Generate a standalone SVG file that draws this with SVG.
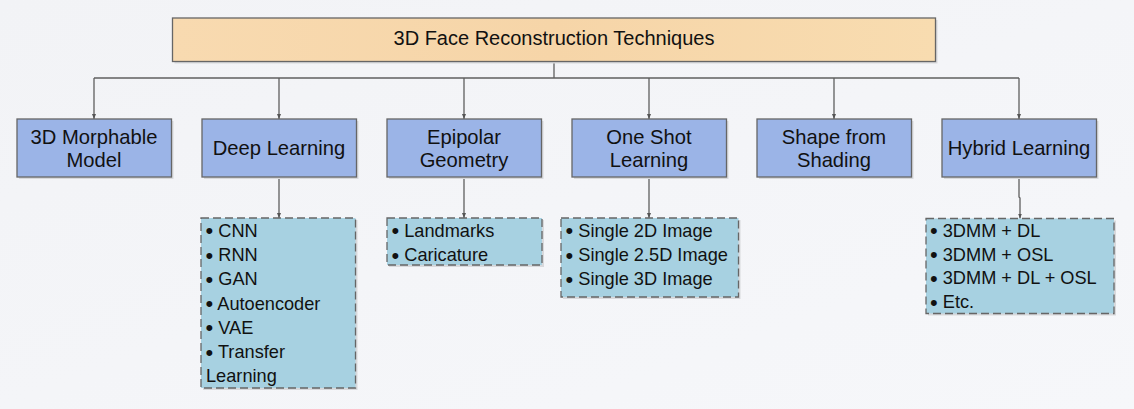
<svg xmlns="http://www.w3.org/2000/svg" width="1134" height="409" viewBox="0 0 1134 409">
<defs>
<linearGradient id="bg" x1="0" y1="0" x2="1" y2="1">
<stop offset="0" stop-color="#f2f3f6"/>
<stop offset="1" stop-color="#f6f7fa"/>
</linearGradient>
<linearGradient id="topfill" x1="0" y1="0" x2="1" y2="0">
<stop offset="0" stop-color="#f8dab0"/>
<stop offset="0.5" stop-color="#f6d5a8"/>
<stop offset="1" stop-color="#f8dcb0"/>
</linearGradient>
<marker id="arr" markerWidth="6" markerHeight="4" refX="5" refY="2" orient="auto" markerUnits="userSpaceOnUse">
<path d="M0,0 L5,2 L0,4 Z" fill="#555"/>
</marker>
</defs>
<style>
.shadow{fill:#d8d9dc;}
.top{fill:url(#topfill);stroke:#666;stroke-width:1.3;}
.node{fill:#9bb4e7;stroke:#666;stroke-width:1.3;}
.sub{fill:#a7d1e1;stroke:#666;stroke-width:1.3;stroke-dasharray:8 4;}
.conn{fill:none;stroke:#5f5f5f;stroke-width:1.3;}
.arrow{marker-end:url(#arr);}
text{font-family:"Liberation Sans",Arial,sans-serif;fill:#111;}
.tt{font-size:20px;text-anchor:middle;}
.nt{font-size:20.2px;text-anchor:middle;}
.lt{font-size:18.2px;}
.b{font-size:22px;}
</style>
<rect width="1134" height="409" fill="url(#bg)"/>

<g id="connectors">
<path class="conn" d="M554,61.5 V78"/>
<path class="conn" d="M94,78 H1019"/>
<path class="conn arrow" d="M94,78 V119"/>
<path class="conn arrow" d="M279,78 V119"/>
<path class="conn arrow" d="M464,78 V119"/>
<path class="conn arrow" d="M649,78 V119"/>
<path class="conn arrow" d="M834,78 V119"/>
<path class="conn arrow" d="M1019,78 V119"/>
<path class="conn arrow" d="M279,177 V218"/>
<path class="conn arrow" d="M464,177 V218"/>
<path class="conn arrow" d="M649,177 V218"/>
<path class="conn arrow" d="M1019,177 V197 L1020,198 V218.5"/>
</g>

<g id="root">
<rect class="shadow" x="174.5" y="20" width="763" height="43.5"/>
<rect class="top" x="172.5" y="18" width="763" height="43.5"/>
<text class="tt" x="554" y="45">3D Face Reconstruction Techniques</text>
</g>

<g id="n-3dmm">
<rect class="shadow" x="19" y="121" width="154.5" height="58"/>
<rect class="node" x="17" y="119" width="154.5" height="58"/>
<text class="nt" x="94" y="144">3D Morphable</text>
<text class="nt" x="94" y="166.5">Model</text>
</g>

<g id="n-dl">
<rect class="shadow" x="204" y="121" width="154.5" height="58"/>
<rect class="node" x="202" y="119" width="154.5" height="58"/>
<text class="nt" x="279" y="155">Deep Learning</text>
</g>

<g id="n-epi">
<rect class="shadow" x="389" y="121" width="154.5" height="58"/>
<rect class="node" x="387" y="119" width="154.5" height="58"/>
<text class="nt" x="464" y="144">Epipolar</text>
<text class="nt" x="464" y="166.5">Geometry</text>
</g>

<g id="n-osl">
<rect class="shadow" x="574" y="121" width="154.5" height="58"/>
<rect class="node" x="572" y="119" width="154.5" height="58"/>
<text class="nt" x="649" y="144">One Shot</text>
<text class="nt" x="649" y="166.5">Learning</text>
</g>

<g id="n-sfs">
<rect class="shadow" x="759" y="121" width="154.5" height="58"/>
<rect class="node" x="757" y="119" width="154.5" height="58"/>
<text class="nt" x="834" y="144">Shape from</text>
<text class="nt" x="834" y="166.5">Shading</text>
</g>

<g id="n-hyb">
<rect class="shadow" x="944" y="121" width="154.5" height="58"/>
<rect class="node" x="942" y="119" width="154.5" height="58"/>
<text class="nt" x="1019" y="155">Hybrid Learning</text>
</g>

<g id="s-dl">
<rect class="shadow" x="203" y="220" width="154.5" height="170"/>
<rect class="sub" x="201" y="218" width="154.5" height="170"/>
<text class="lt" x="205.5" y="236.7"><tspan class="b" dy="1.5">•</tspan><tspan dy="-1.5"> CNN</tspan></text>
<text class="lt" x="205.5" y="261"><tspan class="b" dy="1.5">•</tspan><tspan dy="-1.5"> RNN</tspan></text>
<text class="lt" x="205.5" y="285.2"><tspan class="b" dy="1.5">•</tspan><tspan dy="-1.5"> GAN</tspan></text>
<text class="lt" x="205.5" y="309.5"><tspan class="b" dy="1.5">•</tspan><tspan dy="-1.5"> Autoencoder</tspan></text>
<text class="lt" x="205.5" y="333.8"><tspan class="b" dy="1.5">•</tspan><tspan dy="-1.5"> VAE</tspan></text>
<text class="lt" x="205.5" y="358"><tspan class="b" dy="1.5">•</tspan><tspan dy="-1.5"> Transfer</tspan></text>
<text class="lt" x="206" y="381.8">Learning</text>
</g>

<g id="s-epi">
<rect class="shadow" x="389" y="220" width="155" height="47"/>
<rect class="sub" x="387" y="218" width="155" height="47"/>
<text class="lt" x="391.5" y="236.7"><tspan class="b" dy="1.5">•</tspan><tspan dy="-1.5"> Landmarks</tspan></text>
<text class="lt" x="391.5" y="261"><tspan class="b" dy="1.5">•</tspan><tspan dy="-1.5"> Caricature</tspan></text>
</g>

<g id="s-osl">
<rect class="shadow" x="563" y="220" width="177.5" height="79"/>
<rect class="sub" x="561" y="218" width="177.5" height="79"/>
<text class="lt" x="565.5" y="236.7"><tspan class="b" dy="1.5">•</tspan><tspan dy="-1.5"> Single 2D Image</tspan></text>
<text class="lt" x="565.5" y="261"><tspan class="b" dy="1.5">•</tspan><tspan dy="-1.5"> Single 2.5D Image</tspan></text>
<text class="lt" x="565.5" y="285.2"><tspan class="b" dy="1.5">•</tspan><tspan dy="-1.5"> Single 3D Image</tspan></text>
</g>

<g id="s-hyb">
<rect class="shadow" x="928" y="220.5" width="188" height="95"/>
<rect class="sub" x="926" y="218.5" width="188" height="95"/>
<text class="lt" x="930" y="236.7"><tspan class="b" dy="1.5">•</tspan><tspan dy="-1.5"> 3DMM + DL</tspan></text>
<text class="lt" x="930" y="260.5"><tspan class="b" dy="1.5">•</tspan><tspan dy="-1.5"> 3DMM + OSL</tspan></text>
<text class="lt" x="930" y="284.3"><tspan class="b" dy="1.5">•</tspan><tspan dy="-1.5"> 3DMM + DL + OSL</tspan></text>
<text class="lt" x="930" y="308.3"><tspan class="b" dy="1.5">•</tspan><tspan dy="-1.5"> Etc.</tspan></text>
</g>
</svg>
